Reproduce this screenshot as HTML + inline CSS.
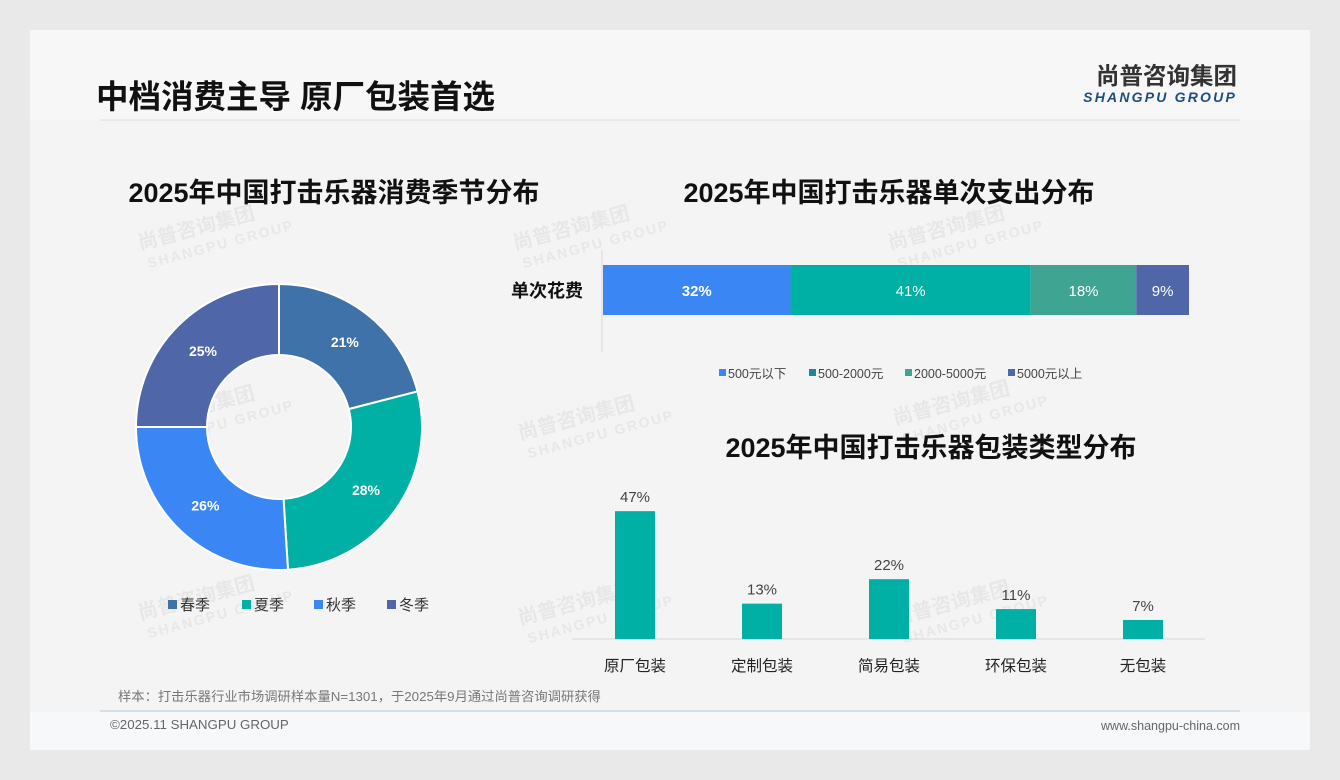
<!DOCTYPE html>
<html><head><meta charset="utf-8"><style>
html,body{margin:0;width:1340px;height:780px;background:#e9e9e9;font-family:"Liberation Sans","Noto Sans CJK SC",sans-serif;overflow:hidden}
svg{display:block}
svg text{font-family:"Liberation Sans","Noto Sans CJK SC",sans-serif}
</style></head><body>
<svg id="s" width="1340" height="780">
<rect x="30" y="30" width="1280" height="720" fill="#f4f4f4"/>
<rect x="30" y="30" width="1280" height="90" fill="#f7f7f7"/>
<rect x="30" y="712" width="1280" height="38" fill="#f7f8f9"/>
<text x="96" y="108" font-size="32.5" font-weight="bold" fill="#111">中档消费主导 原厂包装首选</text>
<line x1="100" y1="120" x2="1240" y2="120" stroke="#dcdcdc"/>
<text x="1237" y="84" font-size="23.5" font-weight="bold" fill="#333" text-anchor="end">尚普咨询集团</text>
<text x="1237" y="102" font-size="14" font-weight="bold" font-style="italic" fill="#1d4e7e" text-anchor="end" letter-spacing="2.2">SHANGPU GROUP</text>
<g id="wm" fill="#e7e7e7" font-weight="bold"></g>
<text x="334" y="202" font-size="27" font-weight="bold" fill="#111" text-anchor="middle">2025年中国打击乐器消费季节分布</text>
<text x="889" y="202" font-size="27" font-weight="bold" fill="#111" text-anchor="middle">2025年中国打击乐器单次支出分布</text>
<text x="931" y="457" font-size="27" font-weight="bold" fill="#111" text-anchor="middle">2025年中国打击乐器包装类型分布</text>
<g id="donut"></g>
<g id="stack"></g>
<g id="bars"></g>
<text x="118" y="701" font-size="13.3" fill="#777">样本：打击乐器行业市场调研样本量N=1301，于2025年9月通过尚普咨询调研获得</text>
<line x1="100" y1="711" x2="1240" y2="711" stroke="#b8c8d8"/>
<text x="110" y="729" font-size="13.3" fill="#666">©2025.11 SHANGPU GROUP</text>
<text x="1240" y="730" font-size="12.5" fill="#666" text-anchor="end">www.shangpu-china.com</text>
</svg>
<script>
const NS="http://www.w3.org/2000/svg";
function mk(p,t,a){const e=document.createElementNS(NS,t);for(const k in a)e.setAttribute(k,a[k]);p.appendChild(e);return e;}
const wm=document.getElementById('wm');
[[140,250],[515,250],[890,250],[140,430],[520,440],[895,425],[140,620],[520,625],[895,625]].forEach(p=>{
 const g=mk(wm,'g',{transform:`translate(${p[0]},${p[1]}) rotate(-15)`});
 
 
 mk(g,'text',{x:0,y:0,'font-size':20}).textContent='尚普咨询集团';
 mk(g,'text',{x:4,y:20,'font-size':14,'letter-spacing':2}).textContent='SHANGPU GROUP';
});
const seasons=['春季','夏季','秋季','冬季'];
const seasonVals=[21,28,26,25];
const seasonColors=['#3f72a8','#00b0a5','#3a86f5','#4f67a8'];
const dg=document.getElementById('donut');
const cx=279,cy=427,R=143,r=72;
let tot=seasonVals.reduce((a,b)=>a+b,0),acc=0;
seasonVals.forEach((v,i)=>{
 const a0=acc/tot*2*Math.PI,a1=(acc+v)/tot*2*Math.PI;acc+=v;
 const P=(rad,a)=>[cx+rad*Math.sin(a),cy-rad*Math.cos(a)];
 const [x0,y0]=P(R,a0),[x1,y1]=P(R,a1),[x2,y2]=P(r,a1),[x3,y3]=P(r,a0);
 const lg=(a1-a0)>Math.PI?1:0;
 const p=mk(dg,'path',{d:`M${x0},${y0}A${R},${R} 0 ${lg} 1 ${x1},${y1}L${x2},${y2}A${r},${r} 0 ${lg} 0 ${x3},${y3}Z`,fill:seasonColors[i],stroke:'#fff','stroke-width':2});
 
 
 const am=(a0+a1)/2,[lx,ly]=P((R+r)/2,am);
 const t=mk(dg,'text',{x:lx,y:ly+5,'font-size':14,'font-weight':'bold',fill:'#fff','text-anchor':'middle'});
 t.textContent=v+'%';
 
 
});
const legX=[168,242,314,387];
seasons.forEach((s,i)=>{
 const g=mk(dg,'g',{});
 
 
 mk(g,'rect',{x:legX[i],y:600,width:9,height:9,fill:seasonColors[i]});
 mk(g,'text',{x:legX[i]+12,y:610,'font-size':15,fill:'#333'}).textContent=s;
});
const spendCats=['500元以下','500-2000元','2000-5000元','5000元以上'];
const spendVals=[32,41,18,9];
const spendColors=['#3a86f5','#00b0a5','#3fa592','#4f67a8'];
const legColors=['#3a86f5','#1a8a9a','#3fa592','#4f67a8'];
const sg=document.getElementById('stack');
const sx0=603,sw=586,sy=265,sh=50;
mk(sg,'line',{x1:602,y1:250,x2:602,y2:352,stroke:'#d8d8d8'});
const yl=mk(sg,'text',{x:583,y:297,'font-size':18,'font-weight':'bold',fill:'#111','text-anchor':'end'});yl.textContent='单次花费';

const st=spendVals.reduce((a,b)=>a+b,0);let sa=0;
spendVals.forEach((v,i)=>{
 const x=sx0+sa/st*sw,w=v/st*sw;sa+=v;
 const b=mk(sg,'rect',{x:x,y:sy,width:w,height:sh,fill:spendColors[i]});
 
 
 const t=mk(sg,'text',{x:x+w/2,y:sy+31,'font-size':15,'font-weight':i==0?'bold':'normal',fill:'#fff','text-anchor':'middle'});
 t.textContent=v+'%';
 
 
});
const slx=[719,809,905,1008];
spendCats.forEach((c,i)=>{
 const g=mk(sg,'g',{});
 
 
 mk(g,'rect',{x:slx[i],y:369,width:7,height:7,fill:legColors[i]});
 mk(g,'text',{x:slx[i]+9,y:378,'font-size':12.5,fill:'#444'}).textContent=c;
});
const packCats=['原厂包装','定制包装','简易包装','环保包装','无包装'];
const packVals=[47,13,22,11,7];
const bg=document.getElementById('bars');
const base=639,scale=2.72,bx0=635,step=127,bw=40;
mk(bg,'line',{x1:572,y1:base,x2:1205,y2:base,stroke:'#d8d8d8'});
packVals.forEach((v,i)=>{
 const cxx=bx0+i*step,h=v*scale;
 const b=mk(bg,'rect',{x:cxx-bw/2,y:base-h,width:bw,height:h,fill:'#00b0a5'});
 
 
 const t=mk(bg,'text',{x:cxx,y:base-h-9,'font-size':15,fill:'#444','text-anchor':'middle'});
 t.textContent=v+'%';
 
 
 const c=mk(bg,'text',{x:cxx,y:671,'font-size':15.5,fill:'#222','text-anchor':'middle'});
 c.textContent=packCats[i];
 
 
});
</script>
</body></html>
